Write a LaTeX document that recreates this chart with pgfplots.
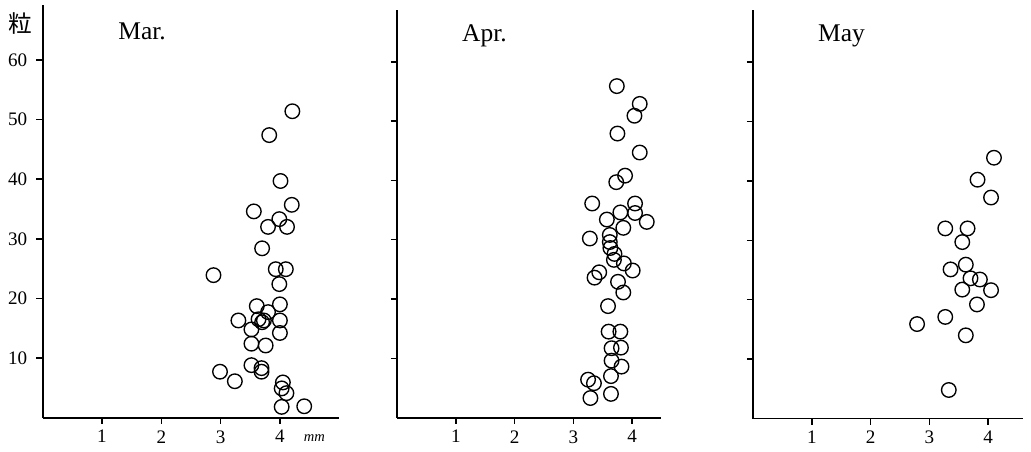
\documentclass[border=0pt]{standalone}
\usepackage{fontspec}
\setmainfont{Liberation Serif}
\newfontfamily\cjk{Noto Sans CJK JP}
\usepackage{pgfplots}
\pgfplotsset{compat=1.18}

% one image pixel = 0.55pt
\pgfplotsset{
  panel/.style={
    axis lines*=left,
    axis line style={line width=1pt},
    xmin=0, ymin=0,
    xtick={1,2,3,4},
    ytick={10,20,30,40,50,60},
    tick align=outside,
    major tick length=3.5pt,
    tick style={line width=0.8pt,black},
    /pgf/number format/assume math mode=true,
    tick label style={font=\fontsize{10.5}{12}\selectfont},
    yticklabel style={xshift=-1.5pt},
    clip=false,
    anchor=south west,
  },
  dots/.style={only marks, mark=o, mark size=4pt, black, mark options={line width=0.75pt}},
}
\tikzset{month/.style={anchor=base west, inner sep=0pt, font=\fontsize{14}{16}\selectfont}}

\pgfplotstableread{
x y
4.21 51.4
3.82 47.4
4.01 39.7
4.20 35.7
3.56 34.6
3.99 33.3
3.80 32.0
4.12 32.0
3.70 28.4
2.88 23.9
3.93 24.9
4.10 24.9
3.99 22.4
3.61 18.7
4.00 19.0
3.80 17.7
3.30 16.3
3.64 16.5
3.70 16.0
3.73 16.3
4.00 16.3
3.52 14.8
4.00 14.2
3.52 12.4
3.76 12.1
3.52 8.8
3.69 8.3
3.69 7.7
2.99 7.7
3.24 6.1
4.05 5.9
4.03 4.9
4.11 4.1
4.03 1.8
4.41 1.9
}\mar

\pgfplotstableread{
x y
3.74 55.9
4.13 52.9
4.04 50.9
3.75 47.9
4.13 44.7
3.88 40.8
3.73 39.7
3.32 36.1
4.05 36.1
4.05 34.5
3.80 34.6
3.57 33.4
4.25 33.0
3.85 32.0
3.28 30.2
3.62 30.8
3.62 29.6
3.63 28.6
3.70 27.6
3.69 26.6
3.86 26.0
4.01 24.8
3.44 24.5
3.36 23.6
3.76 22.9
3.85 21.1
3.59 18.8
3.60 14.5
3.80 14.5
3.65 11.7
3.81 11.8
3.65 9.6
3.82 8.6
3.64 7.0
3.25 6.4
3.35 5.8
3.64 4.0
3.29 3.3
}\apr

\pgfplotstableread{
x y
4.10 43.9
3.82 40.2
4.05 37.2
3.27 32.0
3.65 32.0
3.56 29.7
3.62 25.9
3.36 25.1
3.70 23.6
3.86 23.4
3.56 21.7
4.05 21.6
3.81 19.2
3.27 17.1
2.79 15.9
3.62 14.0
3.33 4.8
}\may

\begin{document}
\begin{tikzpicture}
\path[use as bounding box] (0,0) rectangle (567.05pt,-248.6pt);

\begin{axis}[panel, at={(23.485pt,-229.68pt)}, x=32.615pt, y=3.278pt,
  xmax=5, ymax=69.2]
\addplot[dots] table[x=x,y=y] {\mar};
\node[month] at (axis cs:1.27,63.5) {Mar.};
\node[font=\cjk\fontsize{13}{14}\selectfont] at (axis cs:-0.37,66.2) {粒};
\node[anchor=north, font=\itshape\fontsize{8}{9}\selectfont] at (axis cs:4.58,0) [yshift=-6pt] {mm};
\end{axis}

\begin{axis}[panel, at={(218.515pt,-229.68pt)}, x=32.285pt, y=3.2615pt,
  xmax=4.5, ymax=68.7, yticklabels={}]
\addplot[dots] table[x=x,y=y] {\apr};
\node[month] at (axis cs:1.10,63.5) {Apr.};
\end{axis}

\begin{axis}[panel, at={(414.315pt,-230.175pt)}, x=32.285pt, y=3.267pt,
  xmax=4.6, ymax=68.8, yticklabels={}]
\addplot[dots] table[x=x,y=y] {\may};
\node[month] at (axis cs:1.10,63.5) {May};
\end{axis}
\end{tikzpicture}
\end{document}
